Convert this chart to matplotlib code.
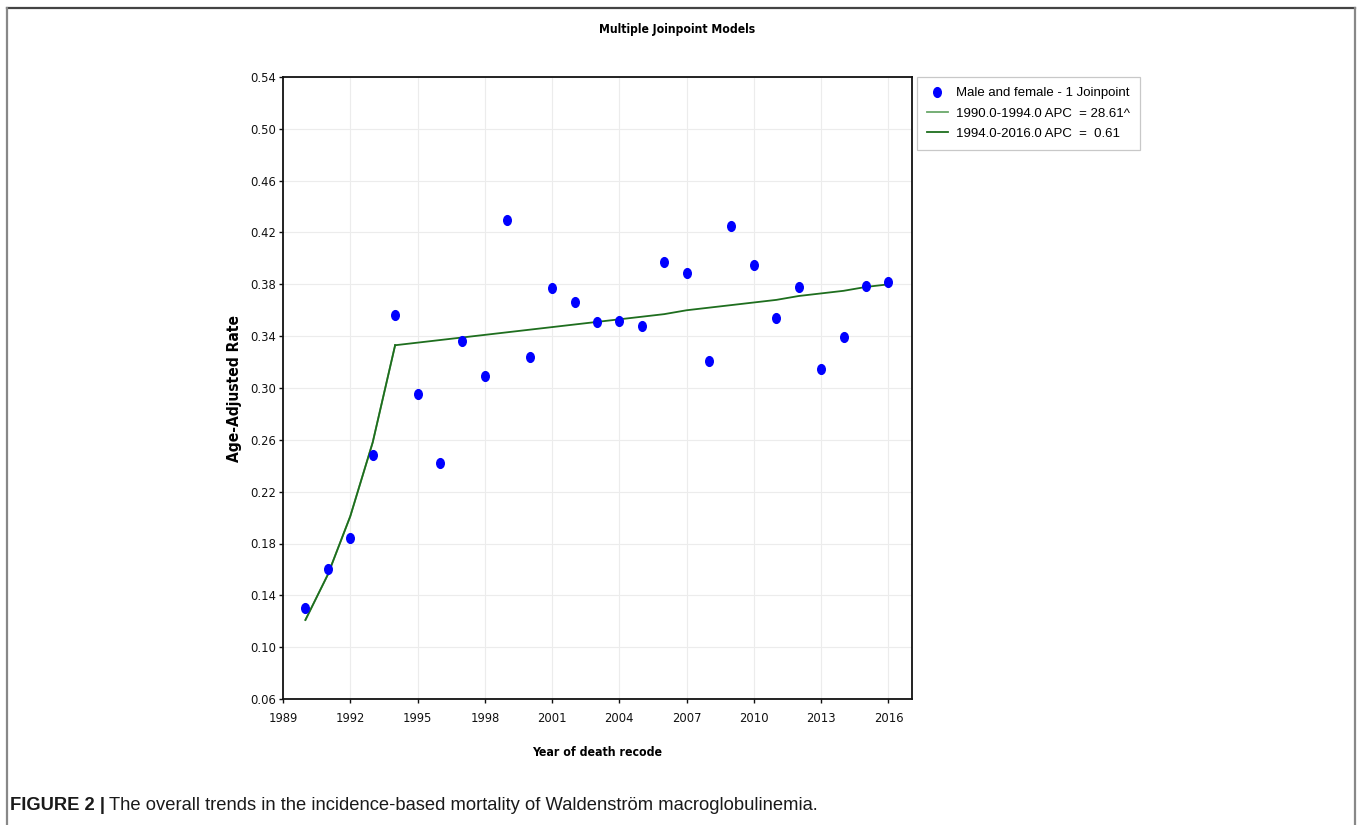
import numpy as np
import matplotlib
matplotlib.use("Agg")
import matplotlib.pyplot as plt
from matplotlib.path import Path
from matplotlib.transforms import Affine2D
from matplotlib.lines import Line2D
from matplotlib import font_manager as fm

years = list(range(1990, 2017))
rate = [0.130, 0.160, 0.184, 0.248, 0.356, 0.295, 0.242, 0.336, 0.309, 0.430,
        0.324, 0.377, 0.366, 0.351, 0.352, 0.348, 0.397, 0.389, 0.321, 0.425,
        0.395, 0.354, 0.378, 0.315, 0.339, 0.379, 0.382]

seg1_years = [1990, 1991, 1992, 1993, 1994]
seg1_fit = [0.121, 0.156, 0.201, 0.258, 0.333]
seg2_years = list(range(1994, 2017))
seg2_fit = [0.333, 0.335, 0.337, 0.339, 0.341, 0.343, 0.345, 0.347, 0.349, 0.351,
            0.353, 0.355, 0.357, 0.360, 0.362, 0.364, 0.366, 0.368, 0.371, 0.373,
            0.375, 0.378, 0.380]

labels = ["Male and female - 1 Joinpoint",
          "1990.0-1994.0 APC  = 28.61^",
          "1994.0-2016.0 APC  =  0.61"]

# condensed sans if the system has it
cond = "normal"
for f in fm.fontManager.ttflist:
    if f.name == "DejaVu Sans" and f.stretch == "condensed":
        cond = "condensed"
        break

W, H = 1357, 825
fig = plt.figure(figsize=(W / 100, H / 100), dpi=100)
ax = fig.add_axes([283 / W, 1 - 699 / H, (912 - 283) / W, (699 - 77) / H])

ell = Path.unit_circle().transformed(Affine2D().scale(0.78, 1.0))
ax.plot(years, rate, linestyle="none", marker=ell, ms=7, color="#0000ff",
        label=labels[0], zorder=3)
ax.plot(seg1_years, seg1_fit, color="#6aa86a", lw=1.3, label=labels[1], zorder=2)
ax.plot(seg2_years, seg2_fit, color="#1e6e1e", lw=1.3, label=labels[2], zorder=2)
ax.plot(seg1_years, seg1_fit, color="#1e6e1e", lw=1.3, zorder=2)

ax.set_xlim(1989, 2017.05)
ax.set_ylim(0.06, 0.54)
ax.set_xticks(np.arange(1989, 2017, 3))
ax.set_yticks(np.arange(0.06, 0.541, 0.04))
ax.yaxis.set_major_formatter(matplotlib.ticker.FormatStrFormatter("%.2f"))
ax.grid(True, color="#ececec", lw=0.8)
ax.set_axisbelow(True)
for s in ax.spines.values():
    s.set_linewidth(1.3)
    s.set_color("#111111")
ax.tick_params(length=3, width=1, labelsize=9.3, colors="#111111")
ax.tick_params(axis="y", pad=2)
ax.tick_params(axis="x", pad=6)
for t in ax.get_xticklabels() + ax.get_yticklabels():
    t.set_fontstretch(cond)

fig.text(677 / W, 1 - 30 / H, "Multiple Joinpoint Models", ha="center", va="center",
         fontsize=8.7, fontweight="bold", fontstretch=cond)
fig.text(235 / W, 1 - 389 / H, "Age-Adjusted Rate", ha="center", va="center",
         rotation=90, fontsize=11.2, fontweight="bold", fontstretch=cond)
fig.text(597 / W, 1 - 752 / H, "Year of death recode", ha="center", va="center",
         fontsize=8.8, fontweight="bold", fontstretch=cond)

leg = fig.legend(loc="upper left", bbox_to_anchor=(917 / W, 1 - 77 / H),
                 borderaxespad=0, fancybox=False, framealpha=1,
                 edgecolor="#c8c8c8", handlelength=1.6, handletextpad=0.6,
                 labelspacing=0.62, borderpad=0.75,
                 prop={"family": "Liberation Sans", "size": 9.5})
leg.get_frame().set_linewidth(0.9)

# outer frame
fig.add_artist(Line2D([7 / W, 1355 / W], [1 - 8 / H, 1 - 8 / H], color="#444444", lw=1.6))
fig.add_artist(Line2D([7 / W, 7 / W], [0, 1 - 8 / H], color="#888888", lw=1.6))
fig.add_artist(Line2D([1355 / W, 1355 / W], [0, 1 - 8 / H], color="#888888", lw=1.6))

# caption
c1 = fig.text(10 / W, 1 - 806 / H, "FIGURE 2 |", ha="left", va="center",
              fontsize=13.2, fontweight="bold", family="Liberation Sans", color="#1a1a1a")
fig.canvas.draw()
bb = c1.get_window_extent()
fig.text((bb.x1 + 4) / W, 1 - 806 / H,
         "The overall trends in the incidence-based mortality of Waldenstr\u00f6m macroglobulinemia.",
         ha="left", va="center", fontsize=13.2, family="Liberation Sans", color="#1a1a1a")

fig.savefig("out.png", dpi=100)
